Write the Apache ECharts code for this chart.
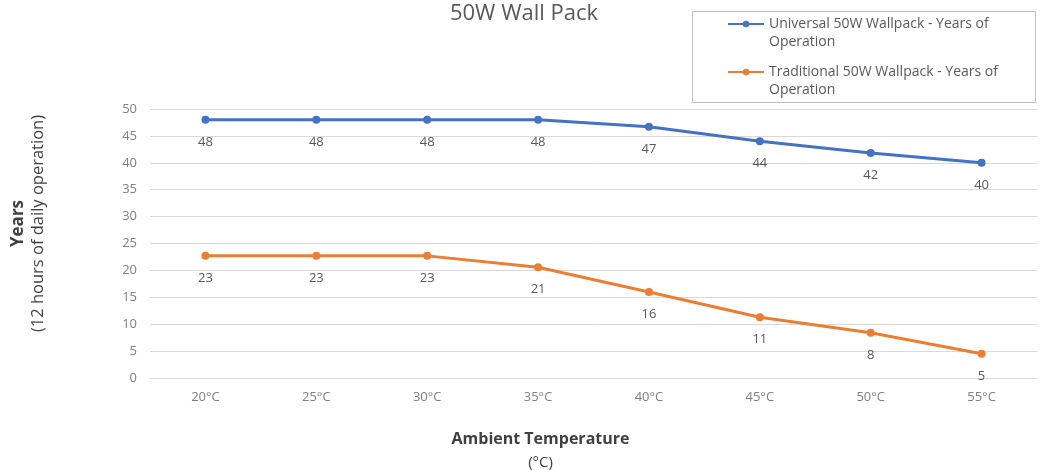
<!DOCTYPE html>
<html>
<head>
<meta charset="utf-8">
<script src="https://cdn.jsdelivr.net/npm/echarts@6/dist/echarts.min.js"></script>
<style>html,body{margin:0;padding:0;background:#fff}#c{width:1053px;height:470px}</style>
</head>
<body>
<div id="c"></div>
<script>
const categories = ['20°C','25°C','30°C','35°C','40°C','45°C','50°C','55°C'];
const universal = [48, 48, 48, 48, 46.7, 44, 41.8, 40];
const traditional = [22.7, 22.7, 22.7, 20.6, 16, 11.3, 8.4, 4.5];
const seriesNames = ['Universal 50W Wallpack - Years of Operation', 'Traditional 50W Wallpack - Years of Operation'];
const yTicks = {min: 0, max: 50, interval: 5};

const FONT = '"Open Sans", "Liberation Sans", sans-serif';
const chart = echarts.init(document.getElementById('c'));
const lbl = {show: true, position: 'bottom', distance: 12, color: '#595959', fontSize: 13, fontFamily: FONT,
  formatter: p => Math.round(p.value)};
chart.setOption({
  animation: false,
  textStyle: {fontFamily: FONT},
  title: {text: '50W Wall Pack', left: 519, top: -2, textAlign: 'center',
    textStyle: {fontSize: 22, fontWeight: 'normal', color: '#595959', fontFamily: FONT}},
  graphic: [{type: 'rect', left: 690, top: 9, shape: {width: 343, height: 91},
    style: {fill: 'none', stroke: '#bfbfbf', lineWidth: 1}, silent: true}],
  legend: {
    orient: 'vertical', left: 727, top: -3, padding: 0,
    itemWidth: 36, itemHeight: 8, itemGap: -6,
    formatter: n => ' \n' + n.replace(' - Years of Operation', ' - Years of\nOperation'),
    textStyle: {color: '#595959', fontSize: 14, lineHeight: 18, fontFamily: FONT}
  },
  grid: {left: 150, right: 16, top: 109, bottom: 92, outerBoundsMode: 'none', containLabel: false},
  xAxis: {
    type: 'category', data: categories, boundaryGap: true,
    axisLine: {lineStyle: {color: '#d9d9d9'}}, axisTick: {show: false},
    axisLabel: {color: '#7f7f7f', fontSize: 13, margin: 13},
    name: 'Ambient Temperature\n{n|(°C)}', nameLocation: 'middle', nameGap: 49,
    nameTextStyle: {fontWeight: 'bold', color: '#404040', fontSize: 16, lineHeight: 24, padding: [0, 106, 0, 0],
      rich: {n: {fontWeight: 'normal', fontSize: 15, color: '#404040'}}}
  },
  yAxis: {
    type: 'value', min: yTicks.min, max: yTicks.max, interval: yTicks.interval,
    axisLine: {show: false}, axisTick: {show: false},
    splitLine: {lineStyle: {color: '#d9d9d9'}},
    axisLabel: {color: '#7f7f7f', fontSize: 13, margin: 13},
    name: '{b|Years}\n(12 hours of daily operation)', nameLocation: 'middle', nameGap: 102,
    nameTextStyle: {color: '#404040', fontSize: 16.5, lineHeight: 20, padding: [0, 0, 0, 40],
      rich: {b: {fontWeight: 'bold', fontSize: 17, color: '#404040'}}}
  },
  series: [
    {name: seriesNames[0], type: 'line', data: universal, symbol: 'circle', symbolSize: 8,
     itemStyle: {color: '#4472C4'}, lineStyle: {width: 3, color: '#4472C4'}, label: lbl},
    {name: seriesNames[1], type: 'line', data: traditional, symbol: 'circle', symbolSize: 8,
     itemStyle: {color: '#ED7D31'}, lineStyle: {width: 3, color: '#ED7D31'}, label: lbl}
  ]
});
</script>
</body>
</html>
